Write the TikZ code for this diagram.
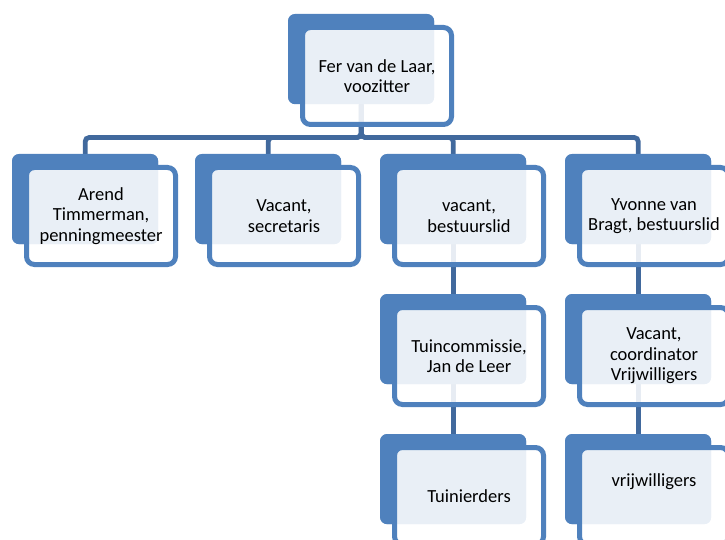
\documentclass[tikz,border=0pt]{standalone}
\usepackage{fontspec}
\setmainfont{Carlito}
\definecolor{boxblue}{HTML}{4F81BD}
\definecolor{connblue}{HTML}{41699D}
\begin{document}
\begin{tikzpicture}[x=1pt,y=-1pt,
  backbox/.style={fill=boxblue, draw=none, rounded corners=7pt, minimum width=146pt, minimum height=90pt, anchor=north west, inner sep=0pt},
  frontbox/.style={fill=white, fill opacity=0.88, text opacity=1, draw=boxblue, draw opacity=1, line width=5pt, rounded corners=8pt, minimum width=149pt, minimum height=97pt, inner sep=0pt, align=center, font=\fontsize{18.5}{20.5}\selectfont},
  conn/.style={draw=connblue, line width=4.8pt, rounded corners=4pt},
  lbl/.style={align=center, font=\fontsize{18.5}{20.5}\selectfont, inner sep=0pt}]
\useasboundingbox (0,0) rectangle (725,540);
\coordinate (bar) at (0,137.5);
% back boxes
\node[backbox] (b0) at (288,14) {};
\node[backbox] (b1) at (12,154) {};
\node[backbox] (b2) at (195,154) {};
\node[backbox] (b3) at (380,154) {};
\node[backbox] (b4) at (565,154) {};
\node[backbox] (b5) at (380,294) {};
\node[backbox] (b6) at (565,294) {};
\node[backbox] (b7) at (380,434) {};
\node[backbox] (b8) at (565,434) {};
% connectors
\foreach \c in {b1,b2,b3,b4}{
  \draw[conn] (b0.south) -- (b0.south |- bar) -| (\c.north);
}
\draw[conn] (b3.south) -- (b5.north);
\draw[conn] (b4.south) -- (b6.north);
\draw[conn] (b5.south) -- (b7.north);
\draw[conn] (b6.south) -- (b8.north);
% redraw back boxes over connectors
\foreach \x/\y in {288/14,12/154,195/154,380/154,565/154,380/294,565/294,380/434,565/434}{
  \fill[boxblue, rounded corners=7pt] (\x,\y) rectangle ++(146,90);
}
% front boxes
\node[frontbox] (f0) at (377,76) {Fer van de Laar,\\voozitter};
\node[frontbox] (f1) at (101,216) {Arend\\Timmerman,\\penningmeester};
\node[frontbox] (f2) at (284,216) {Vacant,\\secretaris};
\node[frontbox] (f3) at (469,216) {vacant,\\bestuurslid};
\node[frontbox] (f4) at (654,216) {Yvonne van\\Bragt, bestuurslid};
\node[frontbox] (f5) at (469,356) {Tuincommissie,\\Jan de Leer};
\node[frontbox] (f6) at (654,356) {Vacant,\\coordinator\\Vrijwilligers};
\node[frontbox] (f7) at (469,496) {Tuinierders};
\node[frontbox] (f8) at (654,496) {};
\node[lbl] (t8) at (654,482) {vrijwilligers};
\end{tikzpicture}
\end{document}
